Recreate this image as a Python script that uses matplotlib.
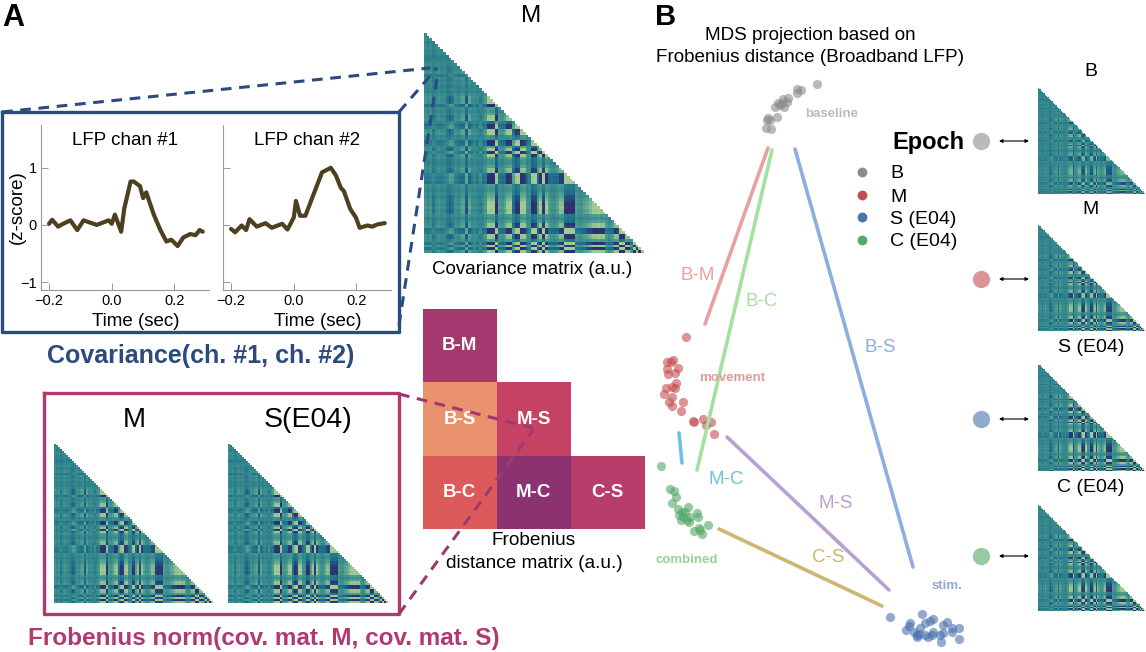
import matplotlib
matplotlib.use('Agg')
import matplotlib.pyplot as plt
import numpy as np
import seaborn as sns

plt.rcParams['font.family'] = ['Liberation Sans', 'DejaVu Sans']

W, H = 1146, 652

# LFP traces
lfp1_t = [-.2, -.19, -.171, -.155, -.132, -.11, -.09, -.048, -.01, 0, .01, .03, .04, .06, .07, .09, .10, .11,
          .134, .155, .174, .19, .21, .228, .25, .267, .28, .29]
lfp1_v = [.02, .09, -.03, .02, .08, -.09, .08, 0, .08, .02, .18, -.12, .29, .76, .76, .68, .47, .57,
          .18, -.09, -.29, -.26, -.37, -.22, -.16, -.18, -.09, -.12]
lfp2_t = [-.2, -.187, -.166, -.152, -.141, -.118, -.09, -.07, -.037, -.02, 0, .007, .02, .037, .06, .09, .118,
          .134, .15, .16, .18, .198, .21, .235, .25, .267, .29]
lfp2_v = [-.07, -.13, -.01, -.09, .1, -.03, .03, -.05, .02, -.08, .13, .42, .16, .16, .49, .92, 1.0,
          .87, .65, .59, .28, .13, -.05, -.01, -.03, .01, .03]

channel_loading = [.15, .1, .12, -.1, .08, .15, .1, .05, -.1, -.35,
                   -.2, .1, .12, .25, .3, -.45, .35, .1, .05, .1,
                   -.1, .12, .2, .85, .85, .85, -.85, .2, .2, .3,
                   .8, .8, -.3, -.85, -.85, .85, .8, .2, .1, -.85,
                   -.85, .3, .85, -.85, .85, .3, .2, .2, .3, .7,
                   .7, -.85, -.85, -.85, -.85, .2, .15, .2, .3, .5,
                   .6, .8, .85, .85, .85, .85, .2, .15, .3, .8,
                   .7, -.9, -.9, .8, .8, .2, -.9, .8, -.9, .8]
channel_texture = [.03, -.03, .04, -.05, .01, .04, -.02, .02, -.06, -.05,
                   .02, .04, -.03, .01, .05, -.06, .03, -.02, .04, -.03,
                   .01, -.04, .04, .02, -.02, .01, -.05, .03, -.02, .04,
                   -.03, .02, .01, -.05, .04, -.02, .05, -.03, .02, -.05,
                   .03, .01, -.04, .05, -.02, .04, -.02, -.05, .02, .01,
                   -.03, .04, -.02, .02, -.04, .05, .01, -.03, .03, -.05,
                   .01, .03, -.02, .04, -.05, .01, .05, -.03, .02, -.02,
                   .04, -.05, .02, .01, -.04, .04, -.02, .03, -.03, .01]
matrix_gain = {'big': 1.0, 'left_m': .9, 'left_s': .95, 'B': .6, 'M': .85, 'S': .95, 'C': .9}

# Frobenius distances
dist_labels = [['B-M', '', ''], ['B-S', 'M-S', ''], ['B-C', 'M-C', 'C-S']]
dist_values = [[.62, np.nan, np.nan], [.12, .48, np.nan], [.34, .72, .54]]

# MDS scatter (page pixel units)
baseline_x = [817, 797, 801, 797, 788, 783, 782, 778, 775, 787, 784, 780, 777, 768, 767, 770, 766, 771]
baseline_y = [84, 89, 90, 93, 98, 99, 103, 103, 107, 102, 107, 105, 117, 118, 120, 120, 128, 129]
movement_x = [686, 667, 671, 673, 667, 678, 675, 668, 676, 666, 672, 675, 664, 672, 669, 672, 683, 681, 693, 694, 703, 711, 706, 714]
movement_y = [337, 362, 362, 360, 369, 368, 373, 374, 383, 388, 387, 388, 394, 397, 402, 406, 402, 411, 421, 422, 419, 422, 425, 434]
combined_x = [661, 670, 674, 676, 672, 678, 688, 682, 685, 679, 683, 681, 690, 687, 689, 697, 698, 694, 699, 708, 702, 700]
combined_y = [466, 489, 491, 497, 503, 509, 507, 512, 512, 515, 517, 520, 517, 520, 522, 513, 517, 531, 528, 525, 534, 530]
stim_x = [890, 922, 933, 930, 925, 910, 909, 906, 914, 920, 917, 919, 933, 932, 928, 925, 943, 947, 952, 959, 952, 943, 940, 941, 959, 917]
stim_y = [617, 614, 619, 621, 623, 623, 626, 630, 632, 628, 635, 634, 632, 635, 637, 635, 625, 622, 628, 628, 632, 633, 635, 642, 639, 637]

GRAY, RED, BLUE, GREEN = '#8c8c8c', '#c44e52', '#4c72b0', '#55a868'
NAVY, PINK = '#2b4a80', '#b03a70'

crest = sns.color_palette('crest_r', as_cmap=True)
flare = sns.color_palette('flare', as_cmap=True)

fig = plt.figure(figsize=(W / 100, H / 100), dpi=100)


def px_axes(x0, y0, x1, y1, **kw):
    return fig.add_axes([x0 / W, 1 - y1 / H, (x1 - x0) / W, (y1 - y0) / H], **kw)


def cov_matrix(x0, y0, x1, y1, gain):
    ax = px_axes(x0, y0, x1, y1)
    load = np.array(channel_loading)
    tex = np.array(channel_texture)
    m = gain * np.outer(load, load) + tex[:, None] + tex[None, :]
    m = np.ma.masked_where(np.triu(np.ones_like(m), k=1) > 0, m)
    ax.imshow(m, cmap=crest, vmin=-.72, vmax=.72, aspect='auto', interpolation='nearest')
    ax.axis('off')


def lfp_axes(x0, x1, t, v, title):
    ax = px_axes(x0, 125, x1, 290)
    ax.plot(t, v, color='#4d4020', lw=3, solid_capstyle='round')
    ax.set_xlim(-.2 - 8 / 312.5, .31)
    ax.set_ylim(-1.14, 1.75)
    ax.set_xticks([-.2, 0, .2])
    ax.set_yticks([-1, 0, 1])
    ax.spines[['top', 'right']].set_visible(False)
    ax.spines[['left', 'bottom']].set_color('#999999')
    ax.spines[['left', 'bottom']].set_linewidth(.8)
    ax.tick_params(direction='in', length=5, width=.7, color='#999999', labelsize=10.5, pad=3)
    ax.set_xlabel('Time (sec)', fontsize=13.5)
    ax.xaxis.set_label_coords(.565, -.14)
    ax.set_title(title, fontsize=13.5, y=.83)
    return ax


ax1 = lfp_axes(41, 209, lfp1_t, lfp1_v, 'LFP chan #1')
ax2 = lfp_axes(223, 391, lfp2_t, lfp2_v, 'LFP chan #2')
ax2.set_yticklabels([])
ax1.set_ylabel('(z-score)', fontsize=13.5)
ax1.yaxis.set_label_coords(-.09, .5)

cov_matrix(424, 33, 644, 253, matrix_gain['big'])
cov_matrix(54, 444, 213, 603, matrix_gain['left_m'])
cov_matrix(228, 444, 388, 603, matrix_gain['left_s'])
cov_matrix(1038, 88, 1145, 194, matrix_gain['B'])
cov_matrix(1038, 225, 1145, 331, matrix_gain['M'])
cov_matrix(1038, 365, 1145, 471, matrix_gain['S'])
cov_matrix(1038, 505, 1145, 611, matrix_gain['C'])

# distance matrix
axd = px_axes(423, 309, 644, 529)
axd.imshow(np.ma.masked_invalid(dist_values), cmap=flare, vmin=0, vmax=1, aspect='auto', interpolation='nearest')
for r, row in enumerate(dist_labels):
    for c, lab in enumerate(row):
        if lab:
            axd.text(c, r, lab, color='white', fontsize=13.5, fontweight='bold', ha='center', va='center')
axd.axis('off')

# overlay in page pixels for boxes, connectors, labels
ov = fig.add_axes([0, 0, 1, 1], facecolor='none')
ov.set_xlim(0, W)
ov.set_ylim(H, 0)
ov.axis('off')

ov.plot([2, 399, 399, 2, 2], [112, 112, 332, 332, 112], color=NAVY, lw=2.4)
ov.plot([44, 399, 399, 44, 44], [393, 393, 614, 614, 393], color=PINK, lw=2.4)
for xs, ys in [([2, 430], [112, 68]), ([399, 437], [112, 68]), ([399, 438], [325, 72])]:
    ov.plot(xs, ys, color=NAVY, lw=2.2, ls=(0, (3.5, 2.5)))
for xs, ys in [([399, 533], [394, 428]), ([399, 533], [614, 430])]:
    ov.plot(xs, ys, color='#a0386e', lw=2.2, ls=(0, (3.5, 2.5)))

ov.text(2, 18, 'A', fontsize=22, fontweight='bold', va='center')
ov.text(655, 17, 'B', fontsize=21, fontweight='bold', va='center')
ov.text(531, 16, 'M', fontsize=17.5, ha='center', va='center')
ov.text(532, 270, 'Covariance matrix (a.u.)', fontsize=13.5, ha='center', va='center')
ov.text(134, 420, 'M', fontsize=20, ha='center', va='center')
ov.text(308, 420, 'S(E04)', fontsize=20.5, ha='center', va='center')
ov.text(201, 356, 'Covariance(ch. #1, ch. #2)', fontsize=18, fontweight='bold', color=NAVY, ha='center', va='center')
ov.text(264, 638, 'Frobenius norm(cov. mat. M, cov. mat. S)', fontsize=17.5, fontweight='bold', color=PINK, ha='center', va='center')
ov.text(534, 552, 'Frobenius\ndistance matrix (a.u.)', fontsize=13.7, ha='center', va='center', linespacing=1.4)
ov.text(810, 35, 'MDS projection based on', fontsize=13.6, ha='center', va='center')
ov.text(810, 58, 'Frobenius distance (Broadband LFP)', fontsize=13.6, ha='center', va='center')

# MDS clusters
for xs, ys, col in [(baseline_x, baseline_y, GRAY), (movement_x, movement_y, RED),
                    (combined_x, combined_y, GREEN), (stim_x, stim_y, BLUE)]:
    ov.scatter(xs, ys, s=44, color=col, alpha=.6, linewidths=0)

links = [('B-M', [768, 705], [148, 324], '#e8a0a0', 698, 276), ('B-C', [772, 697], [150, 470], '#a5e0a0', 762, 301),
         ('B-S', [795, 913], [149, 567], '#8eaee0', 880, 347), ('M-C', [679, 682], [433, 463], '#70c0e0', 726, 479),
         ('M-S', [727, 889], [437, 590], '#b9a0d0', 836, 503), ('C-S', [719, 882], [529, 606], '#cdb672', 828, 557)]
for name, xs, ys, col, lx, ly in links:
    ov.plot(xs, ys, color=col, lw=2.6, solid_capstyle='round')
    ov.text(lx, ly, name, color=col, fontsize=13.5, ha='center', va='center')

ov.text(832, 114, 'baseline', color='#bbbbbb', fontsize=9.5, fontweight='bold', ha='center', va='center')
ov.text(732, 378, 'movement', color='#e09a9a', fontsize=9.5, fontweight='bold', ha='center', va='center')
ov.text(687, 560, 'combined', color='#9bd09b', fontsize=9.5, fontweight='bold', ha='center', va='center')
ov.text(947, 586, 'stim.', color='#92a8d8', fontsize=9.5, fontweight='bold', ha='center', va='center')

# legend
ov.text(928, 143, 'Epoch', fontsize=17, fontweight='bold', ha='center', va='center')
for y, lab, col in zip([172, 195, 217, 240], ['B', 'M', 'S (E04)', 'C (E04)'], [GRAY, RED, BLUE, GREEN]):
    ov.scatter([862], [y], s=50, color=col, linewidths=0)
    ov.text(890, y + 2, lab, fontsize=14, va='center')

# epoch rows on the right
for y, t_y, lab, col in zip([141, 279, 419, 556], [71, 209, 348, 487], ['B', 'M', 'S (E04)', 'C (E04)'], [GRAY, RED, BLUE, GREEN]):
    ov.scatter([981], [y], s=155, color=col, alpha=.6, linewidths=0)
    ov.annotate('', xy=(1029, y), xytext=(999, y), arrowprops=dict(arrowstyle='<|-|>', color='black', lw=.8, mutation_scale=5, shrinkA=0, shrinkB=0))
    ov.text(1091, t_y, lab, fontsize=14, ha='center', va='center')

fig.savefig('out.png', dpi=100)
